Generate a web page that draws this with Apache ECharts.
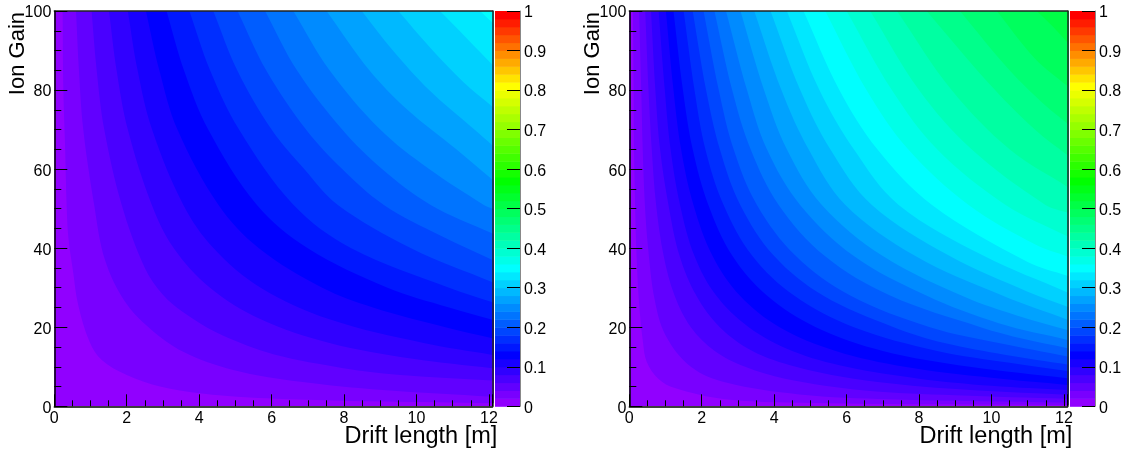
<!DOCTYPE html>
<html><head><meta charset="utf-8">
<style>html,body{margin:0;padding:0;background:#fff}#c{width:1129px;height:452px}</style>
<script src="https://cdn.jsdelivr.net/npm/echarts@6/dist/echarts.min.js"></script>
</head><body><div id="c"></div>
<script>
// Iso-lines: entry i is the line where the value is 0.02*(i+1). Points are [drift length, ion gain].
var leftContours = [
 [[.23,100],[.25,80],[.3,65],[.34,51],[.39,42.5],[.52,34],[.66,25.6],[.97,16.4],[1.31,11.7],[2.0,7.9],[2.92,5],[4.02,3.3],[5.4,2.2],[7.25,1.6],[9.1,1.2],[12.1,.8]],
 [[.6,100],[.68,85],[.8,70],[1.1,51],[1.4,37],[1.95,26.5],[2.64,19.7],[3.56,13.8],[4.94,9.2],[6.8,6.2],[9.07,4.1],[12.1,2.4]],
 [[1.03,100],[1.17,85],[1.38,70],[1.86,51],[2.5,35],[3.0,28.2],[3.56,23.8],[4.48,18.7],[5.87,13.7],[7.25,10.8],[9.09,8.3],[12.1,6.5]],
 [[1.51,100],[1.72,85],[2.03,70],[2.69,51],[3.3,40],[4.3,30],[5.7,22],[7.6,16],[9.9,12],[12.1,9.6]],
 [[2.03,100],[2.3,85],[2.7,70],[3.56,51],[4.4,40],[5.7,30],[7.6,22],[10.2,16],[12.1,13]],
 [[2.53,100],[2.9,85],[3.4,70],[4.53,51],[5.65,40],[7.4,30],[8.8,25],[10.8,20],[12.1,17.2]],
 [[3.1,100],[3.58,85],[4.25,70],[5.59,51],[7.0,40],[9.2,30],[10.9,25],[12.1,21.9]],
 [[3.73,100],[4.3,85],[5.1,70],[6.6,51],[8.2,40],[10.9,30],[12.1,26.3]],
 [[4.39,100],[5.05,85],[6.0,70],[6.9,60],[7.82,51],[9.85,40],[12.1,31.4]],
 [[5.06,100],[5.85,85],[6.95,70],[7.95,60],[9.09,51],[10.7,43],[12.1,37]],
 [[5.82,100],[6.7,85],[7.95,70],[9.05,60],[10.38,51],[12.1,43.7]],
 [[6.6,100],[7.6,85],[9.0,70],[10.35,60],[11.85,51],[12.1,50]],
 [[7.52,100],[8.7,85],[9.75,75],[11.1,65],[12.1,57.3]],
 [[8.49,100],[9.35,90],[10.35,80],[11.6,70],[12.1,66]],
 [[9.5,100],[10.45,90],[11.3,82],[12.1,75.8]],
 [[10.65,100],[11.4,93],[12.1,86.4]],
 [[11.76,100],[12.1,97]]
];
var rightContours = [
 [[.1,100],[.12,80],[.13,65],[.16,51],[.2,38],[.27,26],[.38,16],[.48,11.3],[.8,7],[1.26,4.6],[2.64,1.8],[5.5,.8],[12.1,.35]],
 [[.27,100],[.33,80],[.37,65],[.43,51],[.52,40],[.7,27],[1.0,18],[1.7,10],[2.67,6],[4.7,3],[7.2,1.8],[12.1,.95]],
 [[.44,100],[.53,80],[.62,65],[.74,51],[.95,38],[1.25,28],[1.7,20],[2.36,14],[3.2,10],[4.3,7],[6.5,4],[9,2.8],[12.1,1.9]],
 [[.6,100],[.72,80],[.85,65],[1.08,51],[1.39,38],[1.85,28],[2.5,20],[3.4,14],[4.6,10],[6.2,7],[8.8,4.5],[12.1,2.9]],
 [[.81,100],[.98,80],[1.14,65],[1.4,51],[1.8,38],[2.4,28],[3.3,20],[4.5,14],[6.0,10],[8.0,7],[10,5.2],[12.1,4.1]],
 [[1.01,100],[1.22,80],[1.43,65],[1.77,51],[2.3,38],[3.05,28],[4.15,20],[5.7,14],[7.6,10],[10,7.2],[12.1,5.4]],
 [[1.22,100],[1.48,80],[1.75,65],[2.18,51],[2.85,38],[3.8,28],[5.15,20],[7.0,14],[9.4,10],[12.1,7.1]],
 [[1.5,100],[1.8,80],[2.1,65],[2.6,51],[3.4,38],[4.55,28],[6.2,20],[8.5,14],[10.5,11],[12.1,8.9]],
 [[1.75,100],[2.12,80],[2.5,65],[3.06,51],[4.0,38],[5.35,28],[7.3,20],[8.7,16],[10.4,13],[12.1,10.6]],
 [[2.05,100],[2.47,80],[2.88,65],[3.52,51],[4.6,38],[6.1,28],[8.3,20],[10.2,16],[12.1,12.6]],
 [[2.35,100],[2.84,80],[3.35,65],[4.12,51],[5.4,38],[7.2,28],[9.7,20],[10.9,17],[12.1,14.7]],
 [[2.67,100],[3.25,80],[3.8,65],[4.71,51],[6.2,38],[8.2,28],[10.2,21],[12.1,16.8]],
 [[3.07,100],[3.72,80],[4.35,65],[5.31,51],[7.0,38],[9.3,27.5],[10.7,23],[12.1,19.3]],
 [[3.45,100],[4.2,80],[4.95,65],[5.96,51],[7.9,38],[10.3,28],[12.1,21.9]],
 [[3.9,100],[4.72,80],[5.55,65],[6.69,51],[8.85,38],[11,29],[12.1,25.2]],
 [[4.35,100],[5.25,80],[6.2,65],[7.43,51],[9.8,38],[12.1,28.8]],
 [[4.81,100],[5.8,80],[6.85,65],[8.35,51],[11,36.5],[12.1,33]],
 [[5.41,100],[6.55,80],[7.7,65],[9.36,51],[11.2,41],[12.1,37.9]],
 [[6.0,100],[7.25,80],[8.5,65],[10.38,51],[12.1,43]],
 [[6.65,100],[8.0,80],[9.45,65],[11.48,51],[12.1,49]],
 [[7.39,100],[8.9,80],[10.5,65],[12.1,55.5]],
 [[8.21,100],[9.9,82],[11.2,70],[12.1,63.5]],
 [[9.13,100],[10.5,85],[11.5,76],[12.1,71.5]],
 [[10.15,100],[11.2,88],[12.1,81]],
 [[11.25,100],[11.7,96],[12.1,92]]
];
var paletteStops = [[0,[145,0,255]],[6,[0,0,255]],[17,[0,255,255]],[28,[0,255,0]],[40,[255,255,0]],[49,[255,0,0]]];
var levelCount = 50;
var xLimit = 12.1, yLimit = 100;
var xTitle = 'Drift length [m]', yTitle = 'Ion Gain';
var FONT = '"Liberation Sans", Arial, sans-serif', INK = '#000';

function bandColor(i){
  for (var s=0;s<paletteStops.length-1;s++){
    var a=paletteStops[s], b=paletteStops[s+1];
    if(i<=b[0]){var t=(i-a[0])/(b[0]-a[0]);
      return 'rgb('+a[1].map(function(v,j){return Math.round(v+(b[1][j]-v)*t)}).join(',')+')';}
  }
  return 'rgb(255,0,0)';
}
var grids=[], xAxes=[], yAxes=[], series=[], titles=[];
function addPlot(contours, left){
  var g=grids.length;
  grids.push({left:left,width:438.2,top:11,height:395.3,outerBoundsMode:'none'});
  titles.push({type:'text',x:left+443,y:437,silent:true,style:{text:xTitle,font:'23.5px '+FONT,fill:INK,align:'right',verticalAlign:'middle'}});
  titles.push({type:'text',x:left-36,y:12,rotation:Math.PI/2,silent:true,style:{text:yTitle,font:'22px '+FONT,fill:INK,align:'right',verticalAlign:'middle'}});
  var xi=xAxes.length, yi=yAxes.length;
  xAxes.push({gridIndex:g,type:'value',min:0,max:xLimit,interval:2,position:'bottom',z:10,
    axisLine:{show:true,onZero:false,lineStyle:{color:INK,width:1.5}},
    axisTick:{show:true,inside:true,length:12,lineStyle:{color:INK,width:1}},
    minorTick:{show:true,splitNumber:4,length:6,lineStyle:{color:INK,width:1}},
    splitLine:{show:false},minorSplitLine:{show:false},
    axisLabel:{show:true,margin:4,fontFamily:FONT,fontSize:16,color:INK,showMaxLabel:false,hideOverlap:false}});
  yAxes.push({gridIndex:g,type:'value',min:0,max:yLimit,interval:20,position:'left',z:10,
    axisLine:{show:true,onZero:false,lineStyle:{color:INK,width:1.5}},
    axisTick:{show:true,inside:true,length:13,lineStyle:{color:INK,width:1}},
    minorTick:{show:true,splitNumber:4,length:7,lineStyle:{color:INK,width:1}},
    splitLine:{show:false},minorSplitLine:{show:false},
    axisLabel:{show:true,margin:3,verticalAlign:'top',lineHeight:4,fontFamily:FONT,fontSize:16,color:INK,hideOverlap:false}});
  xAxes.push({gridIndex:g,type:'value',min:0,max:xLimit,position:'top',z:10,axisLine:{show:true,onZero:false,lineStyle:{color:'#222',width:1.5}},axisTick:{show:false},axisLabel:{show:false},splitLine:{show:false}});
  yAxes.push({gridIndex:g,type:'value',min:0,max:yLimit,position:'right',z:10,axisLine:{show:true,onZero:false,lineStyle:{color:'#222',width:1.5}},axisTick:{show:false},axisLabel:{show:false},splitLine:{show:false}});
  var items=[-1].concat(contours.map(function(_,i){return i}));
  series.push({type:'custom',xAxisIndex:xi,yAxisIndex:yi,coordinateSystem:'cartesian2d',silent:true,animation:false,z:2,
    data:items.map(function(i){return [i]}),encode:{x:[],y:[]},
    clip:true,
    renderItem:function(p,api){
      var i=api.value(0);
      if(i<0){
        return {type:'polygon',silent:true,shape:{points:[[0,0],[xLimit,0],[xLimit,yLimit],[0,yLimit]].map(function(q){return api.coord(q)})},style:{fill:bandColor(0)}};
      }
      // run the line past both plot edges so that its smoothing stays straight at the edges
      var line=contours[i].map(function(q){return api.coord(q)}), n=line.length;
      var head=[2*line[0][0]-line[1][0],2*line[0][1]-line[1][1]];
      var tail=[2*line[n-1][0]-line[n-2][0],2*line[n-1][1]-line[n-2][1]];
      var corner=api.coord([xLimit,yLimit]);
      var far=[Math.max(corner[0],tail[0])+40,Math.min(corner[1],head[1])-40];
      return {type:'polygon',silent:true,shape:{points:[head].concat(line,[tail,far]),smooth:0.35},style:{fill:bandColor(i+1)}};
    }});
}
function addScale(left){
  var g=grids.length;
  grids.push({left:left,width:25,top:11,height:395.3,outerBoundsMode:'none'});
  var xi=xAxes.length, yi=yAxes.length;
  xAxes.push({gridIndex:g,type:'value',min:0,max:1,show:false});
  yAxes.push({gridIndex:g,type:'value',min:0,max:1,interval:.1,position:'right',z:10,
    axisLine:{show:true,onZero:false,lineStyle:{color:'#888',width:1}},
    axisTick:{show:true,inside:true,length:13,lineStyle:{color:INK,width:1}},
    splitLine:{show:false},
    axisLabel:{show:true,margin:4,verticalAlign:'top',lineHeight:4,fontFamily:FONT,fontSize:16,color:INK,hideOverlap:false}});
  var items=[]; for(var i=0;i<levelCount;i++) items.push([i]);
  series.push({type:'custom',xAxisIndex:xi,yAxisIndex:yi,silent:true,animation:false,z:2,data:items,encode:{x:[],y:[]},
    renderItem:function(p,api){
      var i=api.value(0), a=api.coord([0,i/levelCount]), b=api.coord([1,(i+1)/levelCount]);
      return {type:'rect',silent:true,shape:{x:a[0],y:b[1],width:b[0]-a[0],height:a[1]-b[1]+.5},style:{fill:bandColor(i)}};
    }});
}
addPlot(leftContours,54.3);  addScale(495);
addPlot(rightContours,629.3); addScale(1070);
var chart=echarts.init(document.getElementById('c'),null,{renderer:'canvas'});
chart.setOption({animation:false,backgroundColor:'#fff',tooltip:{show:false},grid:grids,xAxis:xAxes,yAxis:yAxes,series:series,graphic:{elements:titles}});
</script></body></html>
